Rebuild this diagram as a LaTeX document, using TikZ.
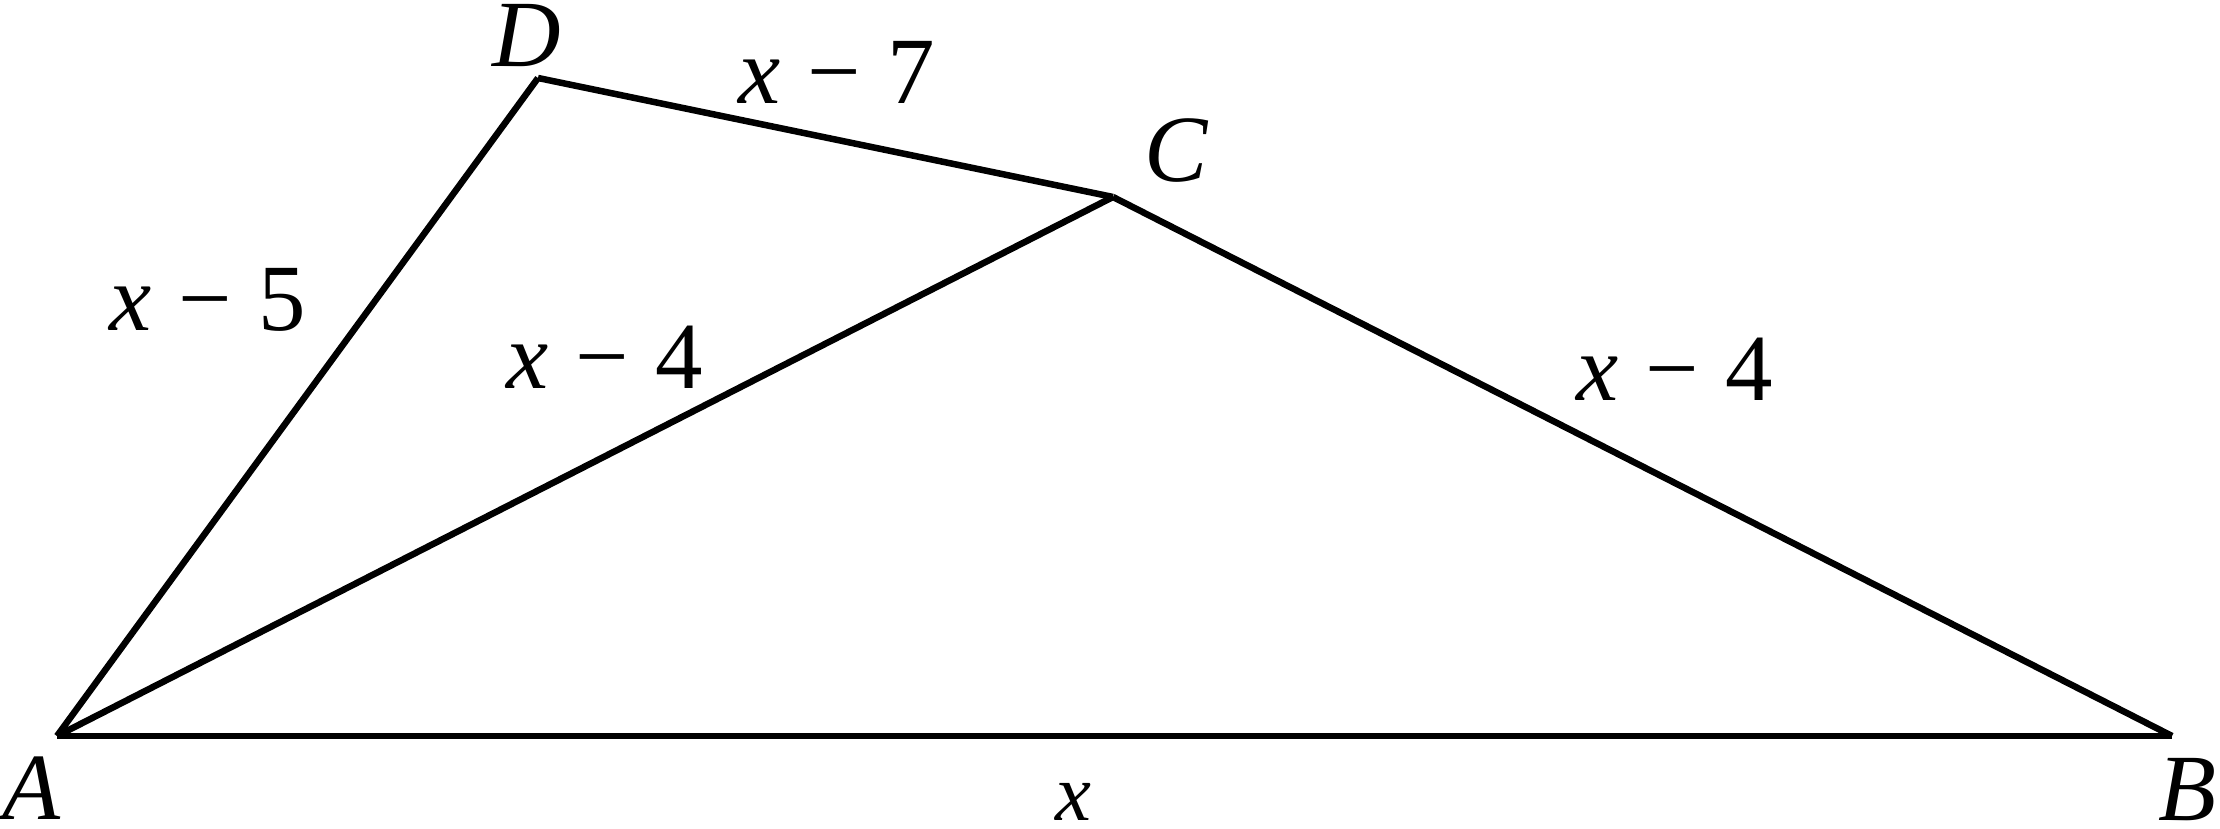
\documentclass[tikz,border=0pt]{standalone}
\usepackage{fontspec}
\setmainfont{Liberation Serif}
\def\mn{\hspace{0.28em}−\hspace{0.28em}}
\tikzset{edge/.style={line width=0.65mm, color=black}, lab/.style={font=\fontsize{27}{32}\selectfont\itshape, inner sep=0pt}, len/.style={font=\fontsize{27}{32}\selectfont, inner sep=0pt}}

\begin{document}
\begin{tikzpicture}
			%%%%% START %%%%%
			\useasboundingbox (0, 0) rectangle (22.2, 8.29);
			
			\coordinate (A) at (0.57, 0.93);
			\coordinate (B) at (21.72, 0.93);
			\coordinate (C) at (11.13, 6.32);
			\coordinate (D) at (5.38, 7.51);
			
			\draw[edge] (A) -- (B);
			\draw[edge] (B) -- (C);
			\draw[edge] (C) -- (A);
			\draw[edge] (A) -- (D);
			\draw[edge] (D) -- (C);
			
			\node[lab] (labA) at (0.31, 0.41) {A};
			\node[lab] (labB) at (21.87, 0.39) {B};
			\node[lab] (labC) at (11.76, 6.78) {C};
			\node[lab] (labD) at (5.27, 7.93) {D};
			
			\node[len, font=\fontsize{23}{28}\selectfont] (ab) at (10.73, 0.27) {\textit{x}};
			\node[len] (dc) at (8.37, 7.57) {\textit{x}\mn 7};
			\node[len] (ad) at (2.08, 5.29) {\textit{x}\mn 5};
			\node[len] (ac) at (6.05, 4.72) {\textit{x}\mn 4};
			\node[len] (bc) at (16.75, 4.6) {\textit{x}\mn 4};
			
			%%%%% END %%%%%
		\end{tikzpicture}
\end{document}
